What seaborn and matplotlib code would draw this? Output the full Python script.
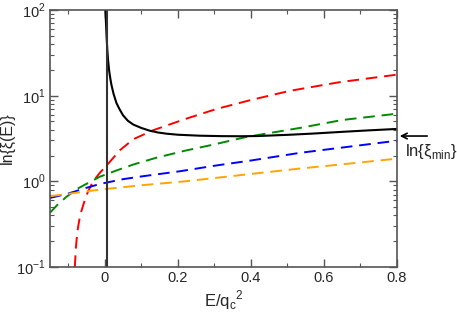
import numpy as np
import pandas as pd
import matplotlib
matplotlib.use('Agg')
import matplotlib.pyplot as plt
import seaborn as sns
from matplotlib.ticker import LogLocator, MultipleLocator, NullFormatter

# values (E/qc^2 , ln xi)
black_E = [0.0015, 0.003, 0.005, 0.007, 0.009, 0.012, 0.015, 0.018, 0.024, 0.032, 0.04, 0.05,
           0.063, 0.078, 0.1, 0.123, 0.145, 0.169, 0.2, 0.26, 0.32, 0.37, 0.42, 0.507, 0.575, 0.644, 0.72, 0.8]
black_v = [100, 75, 48, 34, 26, 19.5, 16, 13.5, 10.5, 8.2, 7.0, 5.9,
           5.1, 4.6, 4.2, 3.9, 3.72, 3.6, 3.5, 3.41, 3.37, 3.36, 3.38, 3.5, 3.62, 3.77, 3.93, 4.09]

red_E = [-0.082, -0.079, -0.075, -0.07, -0.064, -0.055, -0.046, -0.032, -0.014, 0.009, 0.041,
         0.078, 0.132, 0.215, 0.306, 0.4, 0.507, 0.644, 0.8]
red_v = [0.1, 0.17, 0.26, 0.35, 0.45, 0.6, 0.76, 1.0, 1.25, 1.6, 2.3,
         3.1, 3.94, 5.25, 7.0, 8.9, 11.4, 14.4, 17.6]

green_E = [-0.15, -0.13, -0.105, -0.075, -0.041, -0.014, 0.03, 0.078, 0.14, 0.22, 0.3, 0.388,
           0.534, 0.65, 0.8]
green_v = [0.43, 0.53, 0.66, 0.82, 0.98, 1.13, 1.33, 1.57, 1.88, 2.28, 2.7, 3.3,
           4.2, 5.2, 6.16]

blue_E = [-0.15, -0.1, -0.05, -0.014, 0.05, 0.1, 0.205, 0.3, 0.4, 0.534, 0.65, 0.8]
blue_v = [0.64, 0.72, 0.84, 0.93, 1.06, 1.14, 1.31, 1.52, 1.75, 2.15, 2.48, 2.98]

orange_E = [-0.15, -0.014, 0.1, 0.22, 0.4, 0.534, 0.65, 0.8]
orange_v = [0.67, 0.8, 0.9, 1.0, 1.22, 1.41, 1.58, 1.84]

E_zero = 0.007
xi_min = 3.38

sns.set_style("ticks")
plt.rcParams['font.family'] = ['Liberation Sans', 'DejaVu Sans']

fig = plt.figure(figsize=(4.57, 3.13), dpi=100)
ax = fig.add_axes([0.1094, 0.147, 0.7593, 0.821])

dash = (6, 3.5)
for E, v, c in [(red_E, red_v, '#ff0000'), (green_E, green_v, '#008a00'),
                (blue_E, blue_v, '#0000ff'), (orange_E, orange_v, '#ffa500')]:
    df = pd.DataFrame({'E': E, 'v': v})
    sns.lineplot(data=df, x='E', y='v', ax=ax, color=c, lw=1.4, sort=False)
    ax.lines[-1].set_dashes(dash)

df = pd.DataFrame({'E': black_E, 'v': black_v})
sns.lineplot(data=df, x='E', y='v', ax=ax, color='black', lw=1.5, sort=False)
ax.axvline(E_zero, color='#333333', lw=1.5)

ax.set_yscale('log')
ax.set_xlim(-0.15, 0.8)
ax.set_ylim(0.1, 100)
ax.xaxis.set_minor_locator(MultipleLocator(0.1))
ax.set_xticks([0, 0.2, 0.4, 0.6, 0.8])
ax.set_xticklabels(['0', '0.2', '0.4', '0.6', '0.8'])
ax.yaxis.set_minor_locator(LogLocator(base=10, subs=np.arange(2, 10), numticks=20))
ax.yaxis.set_minor_formatter(NullFormatter())
ax.set_yticks([0.1, 1, 10, 100])
ax.set_yticklabels(['10$^{\\mathregular{-1}}$', '10$^{\\mathregular{0}}$',
                    '10$^{\\mathregular{1}}$', '10$^{\\mathregular{2}}$'])

for s in ax.spines.values():
    s.set_visible(True)
    s.set_color('#555555')
    s.set_linewidth(1.2)
ax.tick_params(which='both', direction='in', top=True, right=True, color='#555555')
ax.tick_params(which='major', length=6, width=1, labelsize=10.5, pad=3)
ax.tick_params(which='minor', length=3, width=0.8)

ax.set_xlabel('E/q$_{\\mathregular{c}}$$^{\\mathregular{2}}$', fontsize=12, labelpad=2)
ax.set_ylabel('ln{\u03be(E)}', fontsize=11.5, labelpad=1)

ax.annotate('', xy=(0.8, xi_min), xycoords='data', xytext=(430 / 457, xi_min),
            textcoords=('figure fraction', 'data'),
            arrowprops=dict(arrowstyle='->', color='black', lw=1.2), annotation_clip=False)
fig.text(405 / 457, 1 - 152 / 313, 'ln{\u03be$_{\\mathregular{min}}$}', fontsize=12, va='center', ha='left')

fig.savefig('out.png', dpi=100)
